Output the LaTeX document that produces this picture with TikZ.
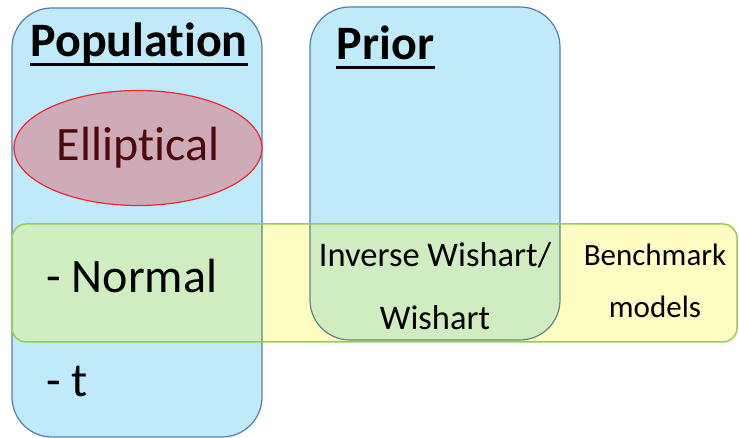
\documentclass[tikz,border=0pt]{standalone}
\usepackage{fontspec}
\setmainfont[Ligatures={NoCommon,NoContextual}]{Carlito}
\usetikzlibrary{shapes.geometric}
\definecolor{boxblue}{RGB}{191,234,249}
\definecolor{boxedge}{RGB}{84,125,175}
\definecolor{boxedgemix}{RGB}{96,132,130}
\definecolor{bandyellow}{RGB}{255,253,193}
\definecolor{bandgreen}{RGB}{207,237,192}
\definecolor{bandedge}{RGB}{146,208,80}
\definecolor{ellfill}{RGB}{207,171,183}
\definecolor{elledge}{RGB}{236,40,50}
\definecolor{elltext}{RGB}{75,10,12}
\tikzstyle{heading}=[inner sep=0pt, font=\bfseries\fontsize{48}{56}\selectfont]
\tikzstyle{member}=[inner sep=0pt, font=\fontsize{48}{56}\selectfont]
\tikzstyle{family}=[ellipse, draw=elledge, fill=ellfill, line width=1.2pt, text=elltext, font=\fontsize{48}{56}\selectfont]

\begin{document}
\begin{tikzpicture}[x=1pt, y=1pt, thick]
    \useasboundingbox (0, 0) rectangle (739, 438);
    % the two columns and the band across them
    \path[draw=boxedge, fill=boxblue, line width=1.2pt, rounded corners=40, save path=\popshape]
        (12, 1) rectangle (262, 430);
    \path[draw=boxedge, fill=boxblue, line width=1.2pt, rounded corners=40, save path=\priorshape]
        (310, 98) rectangle (560, 431);
    \path[fill=bandyellow, rounded corners=14, save path=\bandshape]
        (12, 96) rectangle (737, 214);
    \begin{scope}
        \clip[use path=\bandshape];
        \fill[bandgreen, use path=\popshape];
        \fill[bandgreen, use path=\priorshape];
        \draw[boxedgemix, line width=1.2pt, use path=\popshape];
        \draw[boxedgemix, line width=1.2pt, use path=\priorshape];
    \end{scope}
    \draw[bandedge, line width=1.5pt, use path=\bandshape];
    % headings
    \node[heading, anchor=base] (pop) at (139, 381) {Population};
    \node[heading, anchor=base] (prior) at (385.5, 378) {Prior};
    \draw[line width=3pt] ([yshift=-8pt]pop.base west) -- ([yshift=-8pt]pop.base east);
    \draw[line width=3pt] ([yshift=-8pt]prior.base west) -- ([yshift=-8pt]prior.base east);
    % contents
    \node[family, minimum width=248, minimum height=115, inner sep=0pt] (ell) at (138, 290) {Elliptical\hspace{9pt}};
    \node[member, anchor=base west] (normal) at (46, 145) {- Normal};
    \node[member, anchor=base west] (tdist) at (46, 41) {- t};
    \node[inner sep=0pt, align=center, font=\fontsize{34.5}{63}\selectfont] (wish) at (435, 152)
        {Inverse Wishart/\\Wishart};
    \node[inner sep=0pt, align=center, font=\fontsize{31}{52}\selectfont] (bench) at (655, 157)
        {Benchmark\\models};
\end{tikzpicture}
\end{document}
